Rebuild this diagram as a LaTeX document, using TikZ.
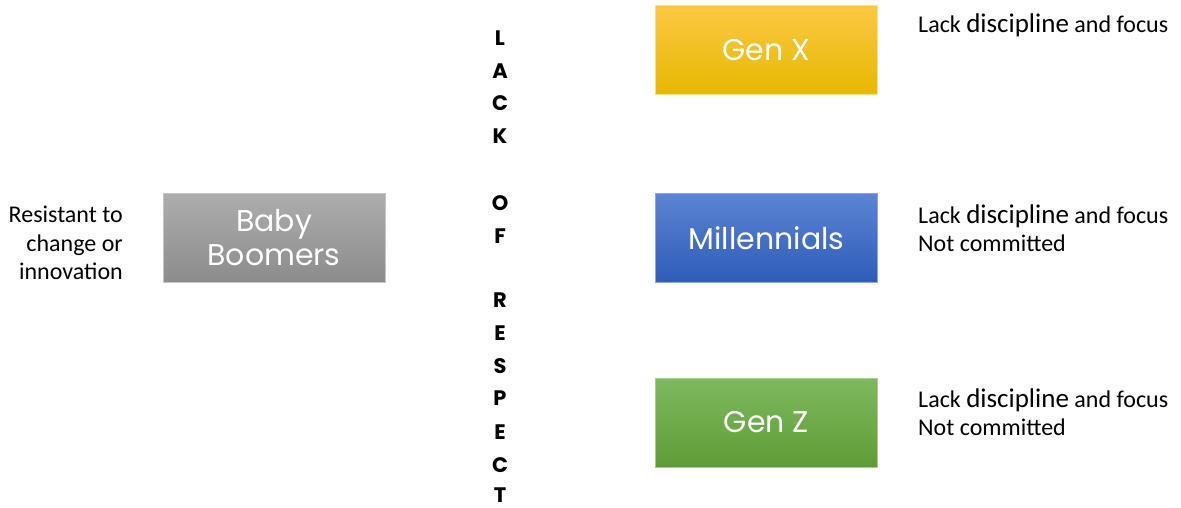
\documentclass[tikz,border=0pt]{standalone}
\usepackage{fontspec}
\setmainfont{Carlito}
\newfontfamily\boxfont{Poppins}
\usetikzlibrary{positioning}

\definecolor{genxtop}{HTML}{FCC844}
\definecolor{genxbot}{HTML}{E6B800}
\definecolor{boomtop}{HTML}{ADADAD}
\definecolor{boombot}{HTML}{8C8C8C}
\definecolor{milltop}{HTML}{5B84D2}
\definecolor{millbot}{HTML}{2E5CB8}
\definecolor{genztop}{HTML}{7EB95F}
\definecolor{genzbot}{HTML}{5E9D35}

\tikzset{
  genbox/.style={minimum width=222pt, minimum height=89pt, inner sep=0pt,
    align=center, text=white, font=\boxfont\fontsize{30}{34}\selectfont},
  remark/.style={inner sep=0pt, font=\fontsize{24}{28.5}\selectfont},
  letter/.style={inner sep=0pt, font=\boxfont\bfseries\fontsize{21}{21}\selectfont}
}
\newcommand{\bigword}[1]{{\fontsize{27}{28.5}\selectfont #1}}

\begin{document}
\begin{tikzpicture}[x=1pt,y=-1pt]
  \useasboundingbox (0,0) rectangle (1181,508);

  % the four generations
  \node[genbox, top color=boomtop, bottom color=boombot, draw=boomtop!70!white]
    (boomers) at (274,237.5) {Baby\\Boomers};
  \node[genbox, top color=genxtop, bottom color=genxbot, draw=genxtop!60!white]
    (genx) at (766.5,50) {Gen X};
  \node[genbox, top color=milltop, bottom color=millbot, draw=milltop!70!white]
    (mill) at (766.5,238) {Millennials};
  \node[genbox, top color=genztop, bottom color=genzbot, draw=genztop!70!white]
    (genz) at (766.5,422.5) {Gen Z};

  % what each side thinks
  \node[remark, align=right, anchor=east] (boomnote) at (123,243)
    {Resistant to\\change or\\innovation};
  \node[remark, align=left, anchor=west] (genxnote) at (918,25)
    {Lack \bigword{discipline} and focus};
  \node[remark, align=left, anchor=west] (millnote) at (918,228)
    {Lack \bigword{discipline} and focus\\Not committed};
  \node[remark, align=left, anchor=west] (genznote) at (918,412)
    {Lack \bigword{discipline} and focus\\Not committed};

  % the vertical caption
  \foreach \ch/\yy [count=\i] in {L/38,A/71,C/103,K/136,O/203,F/236,R/300,
      E/333,S/366,P/398,E/432,C/465,T/495}
    \node[letter] (ltr\i) at (500,\yy) {\ch};
\end{tikzpicture}
\end{document}
